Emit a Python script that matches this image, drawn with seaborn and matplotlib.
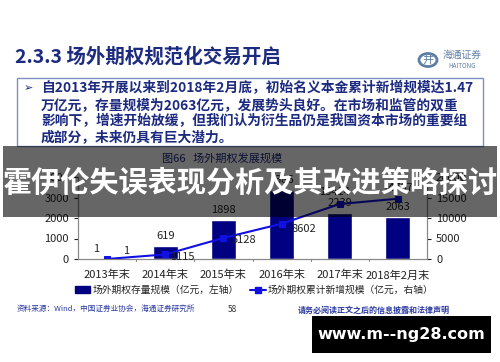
import seaborn as sns
import matplotlib.pyplot as plt
import matplotlib.patches as mpatches
from matplotlib.lines import Line2D
import numpy as np
import pandas as pd

# chart data
years = ['2013年末', '2014年末', '2015年末', '2016年末', '2017年末', '2018年2月末']
stock = [1, 619, 1898, 3386, 2239, 2063]          # 存量规模, left axis
cumulative = [1, 1115, 5128, 8602, 13414, 14707]  # 累计新增规模, right axis

title = '2.3.3 场外期权规范化交易开启'
bullet_lines = ['自2013年开展以来到2018年2月底，初始名义本金累计新增规模达1.47',
                '万亿元，存量规模为2063亿元，发展势头良好。在市场和监管的双重',
                '影响下，增速开始放缓，但我们认为衍生品仍是我国资本市场的重要组',
                '成部分，未来仍具有巨大潜力。']
chart_title = '图66   场外期权发展规模'
legend_labels = ['场外期权存量规模（亿元，左轴）', '场外期权累计新增规模（亿元，右轴）']
banner = '霍伊伦失误表现分析及其改进策略探讨'

sns.set_style('white')
plt.rcParams['font.family'] = ['Noto Sans CJK SC', 'DejaVu Sans']

W, H = 500, 362
fig = plt.figure(figsize=(5, 3.62), dpi=100)

def fx(px):
    return px / W

def fy(py):
    return 1 - py / H

navy = '#1c2a80'

# header
fig.text(fx(15), fy(57), title, fontsize=14, fontweight='bold', color=navy, va='center')
fig.patches.append(mpatches.Circle((fx(428), fy(60)), 0.018, transform=fig.transFigure,
                                   facecolor='none', edgecolor='#5d7fa6', lw=2))
fig.text(fx(428), fy(60), '井', fontsize=8, color='#5d7fa6', ha='center', va='center')
fig.text(fx(462), fy(55), '海通证券', fontsize=7, color='#5d7fa6', ha='center', va='center')
fig.text(fx(462), fy(66), 'HAITONG', fontsize=4.5, color='#5d7fa6', ha='center', va='center')

# text box
fig.patches.append(mpatches.Rectangle((fx(17), fy(146)), fx(466), 68 / H, transform=fig.transFigure,
                                      facecolor='white', edgecolor='#7f8fc0', lw=1))
fig.text(fx(24), fy(88), '➢', fontsize=8, color=navy, va='center', family='DejaVu Sans')
for i, line in enumerate(bullet_lines):
    fig.text(fx(41), fy(88 + 16.7 * i), line, fontsize=9.9, fontweight='bold', color=navy, va='center')

fig.text(fx(222), fy(158), chart_title, fontsize=8, color=navy, ha='center', va='center')

# chart
ax = fig.add_axes([fx(78), fy(259), fx(349), (259 - 177) / H])
df = pd.DataFrame({'year': years, 'stock': stock, 'cumulative': cumulative})
sns.barplot(data=df, x='year', y='stock', color='#000080', saturation=1, width=0.43, ax=ax)
ax.set_ylim(0, 4000)
ax.set_yticks([0, 1000, 2000, 3000, 4000])
ax.set_xlim(-0.5, len(years) - 0.5)
ax.set_xlabel('')
ax.set_ylabel('')

ax2 = ax.twinx()
sns.lineplot(x=np.arange(len(years)), y=cumulative, color='#1010e0', marker='s', markersize=5,
             markeredgecolor='#1010e0', lw=1.5, ax=ax2)
ax2.set_ylim(0, 20000)
ax2.set_yticks([0, 5000, 10000, 15000, 20000])
ax2.set_xlim(-0.5, len(years) - 0.5)

for a in (ax, ax2):
    for s in ['left', 'right', 'bottom']:
        a.spines[s].set_color('#888888')
        a.spines[s].set_linewidth(0.8)
    a.spines['top'].set_visible(False)
    a.tick_params(labelsize=8, colors='#222222', length=3, width=0.8, direction='out')
ax.tick_params(axis='y', left=True)
ax2.tick_params(axis='y', right=True)
ax.tick_params(axis='x', bottom=False, pad=5)
ax.set_xticks(np.arange(len(years)))
ax.set_xticklabels(years)
for b in np.arange(0.5, len(years) - 1, 1.0):
    ax.plot([b, b], [0, -0.03], color='#888888', lw=0.8, transform=ax.get_xaxis_transform(), clip_on=False)

# value labels
bar_off = [(-11, 10), (0, 10), (0, 10), (0, 10), (0, 10), (0, 10)]
for i, v in enumerate(stock):
    ax.annotate(str(v), (i, v), xytext=bar_off[i], textcoords='offset pixels',
                ha='center', va='center', fontsize=8, color='#222222')
line_off = [(19, 8), (17, -3), (21, -2), (22, -5), (-5, 12), (0, 11)]
for i, v in enumerate(cumulative):
    ax2.annotate(str(v), (i, v), xytext=line_off[i], textcoords='offset pixels',
                 ha='center', va='center', fontsize=8, color='#222222')

handles = [mpatches.Patch(color='#000080'),
           Line2D([0], [0], color='#1010e0', marker='s', markersize=4, lw=1.5)]
fig.legend(handles, legend_labels, loc='center', bbox_to_anchor=(fx(254), fy(290)), ncol=2,
           frameon=False, fontsize=7, handlelength=1.6, handleheight=0.6, handletextpad=0.2,
           columnspacing=1.2, labelcolor='#222222')

# footer
fig.text(fx(17), fy(309), '资料来源：Wind，中国证券业协会，海通证券研究所', fontsize=5.5, color='#2b3aa0', va='center')
fig.text(fx(232), fy(310), '58', fontsize=6, color='#333333', va='center', ha='center')
fig.text(fx(298), fy(310), '请务必阅读正文之后的信息披露和法律声明', fontsize=5.8, fontweight='bold',
         color='#2b3aa0', va='center')

# overlay banner
fig.patches.append(mpatches.Rectangle((fx(3), fy(217)), fx(494), 71 / H, transform=fig.transFigure,
                                      facecolor='black', alpha=0.6, edgecolor='none', zorder=10))
fig.text(0.5, fy(183), banner, fontsize=21, fontweight='bold', color='white',
         ha='center', va='center', zorder=11)

# watermark box
fig.patches.append(mpatches.Rectangle((fx(312), fy(353)), fx(179), 37 / H, transform=fig.transFigure,
                                      facecolor='black', edgecolor='none', zorder=10))
fig.text(fx(401), fy(335), 'www.m--ng28.com', fontsize=11.5, fontweight='bold', color='white',
         ha='center', va='center', family='DejaVu Sans', zorder=11)

fig.savefig('out.png', dpi=100)
